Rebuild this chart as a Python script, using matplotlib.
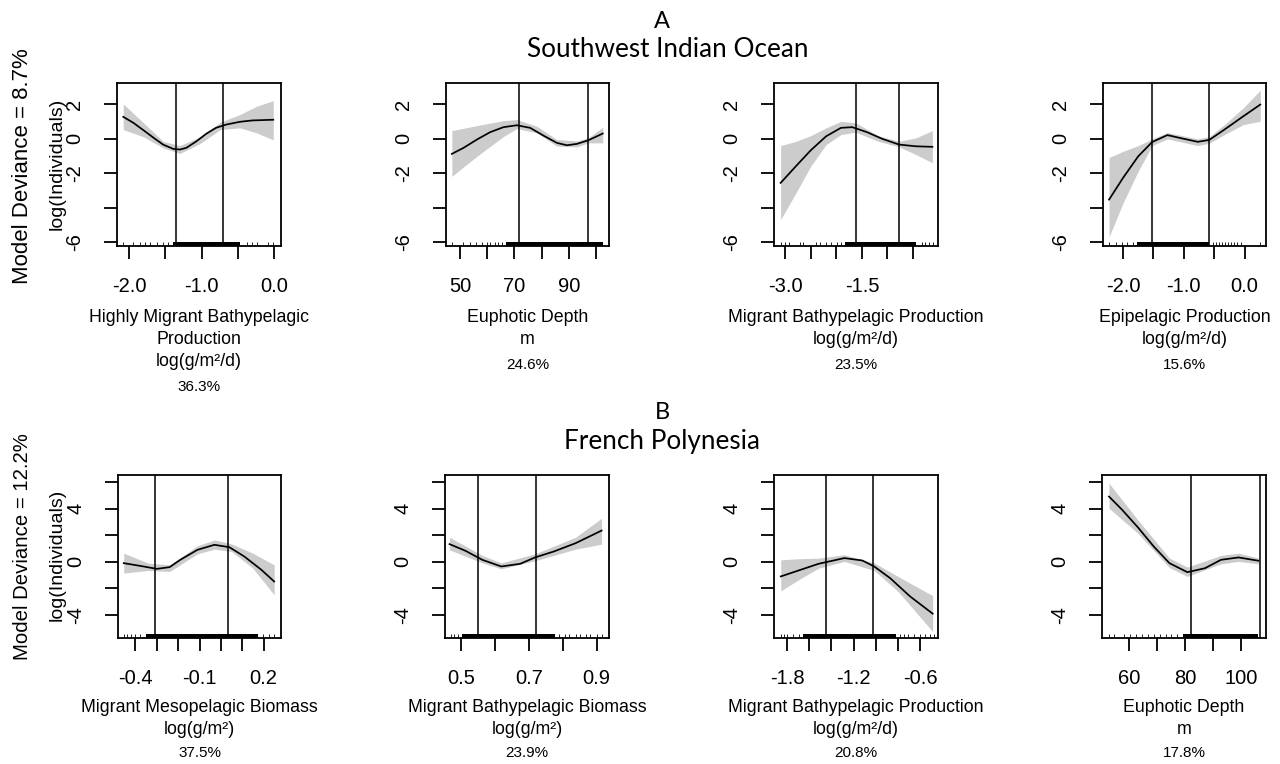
import matplotlib
matplotlib.use("Agg")
import matplotlib.pyplot as plt

W, H = 1280, 764
BAND = "#cccccc"
SANS = ["Liberation Sans", "DejaVu Sans"]
TITLE = ["Lato", "DejaVu Sans"]

# ---------------- A: Southwest Indian Ocean ----------------
a1_x = [-2.08, -1.94, -1.80, -1.66, -1.53, -1.39, -1.30, -1.21, -1.07, -0.93, -0.80, -0.66, -0.47, -0.30, -0.01]
a1_y = [1.26, 0.91, 0.48, 0.04, -0.35, -0.60, -0.64, -0.54, -0.16, 0.29, 0.62, 0.81, 0.97, 1.05, 1.09]
a1_bx = [-2.08, -1.80, -1.53, -1.30, -1.02, -0.74, -0.47, -0.24, -0.01]
a1_lo = [0.52, 0.10, -0.54, -0.87, -0.29, 0.52, 0.62, 0.33, -0.08]
a1_hi = [2.01, 0.91, -0.16, -0.41, 0.10, 0.95, 1.39, 1.87, 2.20]
a1_vl = [-1.35, -0.71]
a1_rug = [-2.08, -1.94, -1.85, -1.78, -1.71, -1.62, -1.53, -1.46, -0.37, -0.31, -0.24, -0.08, -0.01]
a1_dense = (-1.39, -0.47)

a2_x = [47.0, 51.3, 56.2, 61.1, 66.0, 70.9, 75.8, 80.7, 85.6, 89.3, 93.0, 97.2, 102.5]
a2_y = [-0.89, -0.54, -0.06, 0.37, 0.66, 0.77, 0.62, 0.17, -0.25, -0.39, -0.31, -0.10, 0.29]
a2_bx = [47.0, 56.2, 66.0, 70.9, 78.3, 85.6, 93.0, 97.2, 102.5]
a2_lo = [-2.19, -1.03, 0.12, 0.58, 0.33, -0.44, -0.48, -0.25, -0.25]
a2_hi = [0.46, 0.75, 1.04, 1.10, 0.71, -0.06, -0.14, 0.04, 0.66]
a2_vl = [71.7, 97.1]
a2_rug = [47.0, 51.0, 53.7, 56.0, 58.0, 60.0, 61.0, 63.0, 64.0, 65.3]
a2_dense = (67.0, 102.6)

a3_x = [-3.09, -2.79, -2.50, -2.20, -1.91, -1.69, -1.40, -1.10, -0.77, -0.44, -0.12]
a3_y = [-2.57, -1.60, -0.68, 0.13, 0.62, 0.66, 0.37, -0.02, -0.35, -0.45, -0.48]
a3_bx = [-3.09, -2.79, -2.50, -2.20, -1.91, -1.62, -1.18, -0.77, -0.44, -0.12]
a3_lo = [-4.70, -3.15, -1.60, -0.35, 0.23, 0.37, -0.16, -0.48, -0.93, -1.41]
a3_hi = [-0.41, -0.16, 0.17, 0.62, 1.00, 0.91, 0.17, -0.16, 0.04, 0.46]
a3_vl = [-1.61, -0.77]
a3_rug = [-3.09, -3.01, -2.93, -2.71, -2.65, -2.39, -2.32, -2.20, -2.10, -1.98, -1.91,
          -0.33, -0.26, -0.18, -0.11]
a3_dense = (-1.84, -0.44)

a4_x = [-2.23, -2.00, -1.75, -1.52, -1.27, -1.02, -0.77, -0.58, -0.33, -0.02, 0.26]
a4_y = [-3.54, -2.28, -1.03, -0.20, 0.20, 0.00, -0.19, -0.08, 0.52, 1.29, 1.97]
a4_bx = [-2.23, -2.00, -1.75, -1.52, -1.27, -0.77, -0.58, -0.33, -0.02, 0.26]
a4_lo = [-5.70, -3.74, -1.89, -0.41, -0.02, -0.41, -0.27, 0.23, 0.81, 1.00]
a4_hi = [-1.10, -0.74, -0.41, -0.02, 0.35, -0.02, 0.11, 0.81, 1.78, 2.80]
a4_vl = [-1.52, -0.58]
a4_rug = [-2.23, -2.12, -2.02, -1.93, -1.84, -0.52, -0.47, -0.42, -0.37, -0.32, -0.27,
          -0.22, -0.17, -0.12, -0.06, 0.26]
a4_dense = (-1.77, -0.58)

# ---------------- B: French Polynesia ----------------
b1_x = [-0.455, -0.38, -0.30, -0.24, -0.19, -0.11, -0.03, 0.04, 0.11, 0.19, 0.25]
b1_y = [-0.10, -0.30, -0.53, -0.40, 0.15, 0.90, 1.28, 1.10, 0.40, -0.60, -1.48]
b1_bx = [-0.455, -0.34, -0.24, -0.11, -0.03, 0.05, 0.15, 0.25]
b1_lo = [-0.85, -0.65, -0.73, 0.60, 0.95, 0.78, -0.48, -2.48]
b1_hi = [0.65, -0.10, -0.23, 1.20, 1.65, 1.35, 0.65, -0.23]
b1_vl = [-0.31, 0.035]
b1_rug = [-0.455, -0.44, -0.42, -0.40, -0.38, 0.196, 0.225, 0.25]
b1_dense = (-0.353, 0.176)

b2_x = [0.465, 0.512, 0.562, 0.618, 0.674, 0.718, 0.774, 0.838, 0.915]
b2_y = [1.33, 0.83, 0.15, -0.35, -0.15, 0.33, 0.78, 1.40, 2.35]
b2_bx = [0.465, 0.562, 0.618, 0.718, 0.838, 0.915]
b2_lo = [0.90, -0.08, -0.53, 0.08, 0.95, 1.33]
b2_hi = [1.85, 0.48, -0.08, 0.60, 1.85, 3.28]
b2_vl = [0.55, 0.72]
b2_rug = [0.468, 0.478, 0.49, 0.788, 0.807, 0.82, 0.838, 0.851, 0.869, 0.882, 0.90, 0.915]
b2_dense = (0.503, 0.776)

b3_x = [-1.857, -1.696, -1.517, -1.284, -1.122, -1.015, -0.871, -0.692, -0.488]
b3_y = [-1.10, -0.65, -0.15, 0.28, 0.10, -0.35, -1.23, -2.60, -3.90]
b3_bx = [-1.857, -1.696, -1.517, -1.284, -1.015, -0.800, -0.488]
b3_lo = [-2.18, -1.35, -0.48, 0.03, -0.65, -2.23, -5.25]
b3_hi = [0.15, 0.23, 0.28, 0.53, -0.08, -1.10, -2.55]
b3_vl = [-1.445, -1.03]
b3_rug = [-1.857, -1.829, -1.797, -1.75, -1.696, -0.782, -0.746, -0.71, -0.657, -0.60,
          -0.556, -0.513, -0.477]
b3_dense = (-1.66, -0.818)

b4_x = [52.8, 57.5, 63.1, 68.8, 74.4, 80.8, 87.1, 92.8, 99.1, 106.2]
b4_y = [4.91, 3.91, 2.60, 1.15, -0.10, -0.78, -0.48, 0.15, 0.33, 0.08]
b4_bx = [52.8, 63.1, 74.4, 80.8, 92.8, 99.1, 106.2]
b4_lo = [4.03, 2.15, -0.43, -1.10, -0.15, 0.03, -0.15]
b4_hi = [5.91, 3.16, 0.28, -0.40, 0.48, 0.65, 0.28]
b4_vl = [82.1, 106.8]
b4_rug = [52.8, 54.6, 58.2, 60.3, 62.4, 64.5, 66.6, 68.8, 70.9, 73.0, 75.1, 77.2]
b4_dense = (79.4, 106.2)

a_labels = [["Highly Migrant Bathypelagic", "Production", "log(g/m²/d)"],
            ["Euphotic Depth", "m"],
            ["Migrant Bathypelagic Production", "log(g/m²/d)"],
            ["Epipelagic Production", "log(g/m²/d)"]]
a_pct = ["36.3%", "24.6%", "23.5%", "15.6%"]
b_labels = [["Migrant Mesopelagic Biomass", "log(g/m²)"],
            ["Migrant Bathypelagic Biomass", "log(g/m²)"],
            ["Migrant Bathypelagic Production", "log(g/m²/d)"],
            ["Euphotic Depth", "m"]]
b_pct = ["37.5%", "23.9%", "20.8%", "17.8%"]

a_yticks = [2, 0, -2, -4, -6]
a_yticklabels = ["2", "0", "-2", "", "-6"]
b_yticks = [6, 4, 2, 0, -2, -4]
b_yticklabels = ["", "4", "", "0", "", "-4"]

a_xticks = [[-2.0, -1.5, -1.0, -0.5, 0.0], [50, 60, 70, 80, 90, 100],
            [-3.0, -2.5, -2.0, -1.5, -1.0, -0.5], [-2.0, -1.5, -1.0, -0.5, 0.0]]
a_xticklabels = [["-2.0", "", "-1.0", "", "0.0"], ["50", "", "70", "", "90", ""],
                 ["-3.0", "", "", "-1.5", "", ""], ["-2.0", "", "-1.0", "", "0.0"]]
b_xticks = [[-0.4, -0.3, -0.2, -0.1, 0.0, 0.1, 0.2], [0.5, 0.6, 0.7, 0.8, 0.9],
            [-1.8, -1.6, -1.4, -1.2, -1.0, -0.8, -0.6], [60, 70, 80, 90, 100]]
b_xticklabels = [["-0.4", "", "", "-0.1", "", "", "0.2"], ["0.5", "", "0.7", "", "0.9"],
                 ["-1.8", "", "", "-1.2", "", "", "-0.6"], ["60", "", "80", "", "100"]]

# layout in pixels (left, right) and axis limits
a_boxes = [(117, 281), (446, 609), (774, 938), (1103, 1266)]
a_xlims = [(-2.166, 0.097), (44.85, 104.8), (-3.22, -0.01), (-2.33, 0.354)]
b_boxes = [(118, 281), (445, 609), (774, 938), (1102, 1266)]
b_xlims = [(-0.482, 0.282), (0.4515, 0.937), (-1.918, -0.44), (50.3, 108.9)]

fig = plt.figure(figsize=(W / 100, H / 100), dpi=100)


def fx(px):
    return px / W


def fy(py):
    return 1 - py / H


def panel(box, top, bottom, xlim, ylim, xt, xtl, yt, ytl, cx, cy, bx, blo, bhi,
          vl, rug, dense):
    left, right = box
    ax = fig.add_axes([fx(left), fy(bottom), (right - left) / W, (bottom - top) / H])
    ax.fill_between(bx, blo, bhi, color=BAND, lw=0, zorder=1)
    ax.plot(cx, cy, color="black", lw=1.25, zorder=3)
    for v in vl:
        ax.axvline(v, color="black", lw=1.1, zorder=4)
    trans = ax.get_xaxis_transform()
    ax.vlines(rug, 0, 0.025, transform=trans, color="black", lw=0.6, zorder=5)
    ax.axvspan(dense[0], dense[1], ymin=0, ymax=0.025, color="black", lw=0, zorder=5)
    ax.set_xlim(*xlim)
    ax.set_ylim(*ylim)
    ax.set_xticks(xt)
    ax.set_xticklabels(xtl, family=SANS, fontsize=14.5)
    ax.set_yticks(yt)
    ax.set_yticklabels(ytl, family=SANS, fontsize=14.5, rotation=90, va="center")
    ax.tick_params(axis="both", direction="out", length=9.5, width=1.3, color="black")
    ax.tick_params(axis="x", pad=13)
    ax.tick_params(axis="y", pad=14)
    for s in ax.spines.values():
        s.set_linewidth(1.3)
    return ax


def labels(xc, lines, pct, y0, step, pct_gap):
    y = y0
    for line in lines:
        fig.text(xc, fy(y), line, ha="center", va="center", family=SANS, fontsize=12.8)
        y += step
    fig.text(xc, fy(y + pct_gap), pct, ha="center", va="center", family=SANS, fontsize=11)


# row A
a_data = [(a1_x, a1_y, a1_bx, a1_lo, a1_hi, a1_vl, a1_rug, a1_dense),
          (a2_x, a2_y, a2_bx, a2_lo, a2_hi, a2_vl, a2_rug, a2_dense),
          (a3_x, a3_y, a3_bx, a3_lo, a3_hi, a3_vl, a3_rug, a3_dense),
          (a4_x, a4_y, a4_bx, a4_lo, a4_hi, a4_vl, a4_rug, a4_dense)]
for i, d in enumerate(a_data):
    panel(a_boxes[i], 83, 246, a_xlims[i], (-6.23, 3.22), a_xticks[i], a_xticklabels[i],
          a_yticks, a_yticklabels, *d)
    labels(fx(sum(a_boxes[i]) / 2), a_labels[i], a_pct[i], 318, 22, 3)

# row B
b_data = [(b1_x, b1_y, b1_bx, b1_lo, b1_hi, b1_vl, b1_rug, b1_dense),
          (b2_x, b2_y, b2_bx, b2_lo, b2_hi, b2_vl, b2_rug, b2_dense),
          (b3_x, b3_y, b3_bx, b3_lo, b3_hi, b3_vl, b3_rug, b3_dense),
          (b4_x, b4_y, b4_bx, b4_lo, b4_hi, b4_vl, b4_rug, b4_dense)]
for i, d in enumerate(b_data):
    panel(b_boxes[i], 475, 638, b_xlims[i], (-5.73, 6.53), b_xticks[i], b_xticklabels[i],
          b_yticks, b_yticklabels, *d)
    labels(fx(sum(b_boxes[i]) / 2), b_labels[i], b_pct[i], 707, 23, 0)

# side labels
fig.text(fx(22.5), fy(166), "Model Deviance = 8.7%", rotation=90, ha="center", va="center",
         family=SANS, fontsize=16)
fig.text(fx(57), fy(164), "log(Individuals)", rotation=90, ha="center", va="center",
         family=SANS, fontsize=14)
fig.text(fx(23), fy(547), "Model Deviance = 12.2%", rotation=90, ha="center", va="center",
         family=SANS, fontsize=14.7)
fig.text(fx(57), fy(555), "log(Individuals)", rotation=90, ha="center", va="center",
         family=SANS, fontsize=14)

# row titles
fig.text(fx(662), fy(28), "A", ha="center", va="baseline", family=TITLE, fontsize=17)
fig.text(fx(668), fy(57), "Southwest Indian Ocean", ha="center", va="baseline",
         family=TITLE, fontsize=18.8)
fig.text(fx(662), fy(419), "B", ha="center", va="baseline", family=TITLE, fontsize=17)
fig.text(fx(662), fy(449), "French Polynesia", ha="center", va="baseline",
         family=TITLE, fontsize=18.8)

fig.savefig("out.png", dpi=100, facecolor="white")
